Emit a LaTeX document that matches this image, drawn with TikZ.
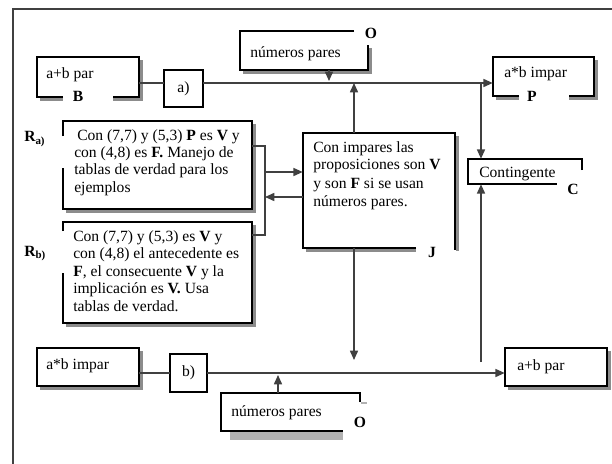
\documentclass[tikz,border=0pt]{standalone}
\usepackage{fontspec}
\setmainfont{Liberation Serif}
\usetikzlibrary{arrows.meta,fit}
\begin{document}
\begin{tikzpicture}[x=0.75pt,y=-0.75pt,
  bd/.style={black,line width=0.9pt},
  shd/.style={black!45,line width=2.2pt},
  con/.style={black!75,line width=1.2pt},
  arr/.style={con,-{Triangle[length=7pt,width=6pt]}},
  txt/.style={font=\fontsize{11.7}{14}\selectfont,inner sep=0pt,anchor=base west},
  lbl/.style={font=\fontsize{11.7}{14}\selectfont\bfseries,inner sep=0pt,anchor=base},
  area/.style={inner sep=0pt,draw=none}]
\useasboundingbox (0,0) rectangle (612,464);
% frame
\draw[line width=1.4pt,black!75] (13,464) -- (13,9) -- (612,9);

% ---- box B
\node[area,fit={(37,57)(139,97)}] (B) {};
\draw[shd] (141.5,60) -- (141.5,99.5) -- (113,99.5);
\draw[shd] (40,99.5) -- (63,99.5);
\draw[bd] (63,97) -- (37,97) -- (37,57) -- (139,57) -- (139,97) -- (113,97);
\node[txt] (Bt) at (46,79) {a+b par};
\node[lbl] (Bl) at (78,102) {B};

% ---- box a)
\node[area,fit={(164,70)(203,107)}] (abox) {};
\draw[bd] (164,70) rectangle (203,107);
\node[font=\fontsize{11.7}{14}\selectfont,inner sep=0pt] (at) at (abox.center) {a)};

% ---- top O box
\node[area,fit={(240,31)(368,70)}] (Otop) {};
\draw[shd] (370.5,48) -- (370.5,72.5) -- (243,72.5);
\draw[bd] (354,31) -- (240,31) -- (240,70) -- (368,70) -- (368,45);
\node[txt] (Ot) at (250,57) {números pares};
\node[lbl] (Ol) at (371,38) {O};

% ---- box P
\node[area,fit={(493,57)(594,96)}] (P) {};
\draw[shd] (596.5,60) -- (596.5,98.5) -- (569,98.5);
\draw[shd] (496,98.5) -- (519,98.5);
\draw[bd] (519,96) -- (493,96) -- (493,57) -- (594,57) -- (594,96) -- (569,96);
\node[txt] (Pt) at (504,78) {a*b impar};
\node[lbl] (Pl) at (532,102) {P};

% ---- box C
\node[area,fit={(468,159)(582,184)}] (C) {};
\draw[bd] (582,170) -- (582,159) -- (468,159) -- (468,184) -- (557,184);
\node[txt] (Ct) at (479,177) {Contingente};
\node[lbl] (Cl) at (573,194) {C};

% ---- box J
\node[area,fit={(303,133)(455,248)}] (J) {};
\draw[shd] (457.5,136) -- (457.5,251);
\draw[shd] (306,250.5) -- (416,250.5);
\draw[bd] (416,248) -- (303,248) -- (303,133) -- (455,133) -- (455,250);
\node[txt] (j1) at (313,152) {Con impares las};
\node[txt] (j2) at (313,170) {proposiciones son \textbf{V}};
\node[txt] (j3) at (313,188) {y son \textbf{F} si se usan};
\node[txt] (j4) at (313,206) {números pares.};
\node[lbl] (Jl) at (432,257) {J};

% ---- box Ra
\node[area,fit={(63,121)(252,209)}] (Ra) {};
\draw[shd] (254.5,124) -- (254.5,211.5) -- (66,211.5);
\draw[bd] (63,136) -- (63,121) -- (252,121) -- (252,209) -- (63,209) -- (63,168);
\node[txt] (ra1) at (77,140) {Con (7,7) y (5,3) \textbf{P} es \textbf{V} y};
\node[txt] (ra2) at (74,157.5) {con (4,8) es \textbf{F.} Manejo de};
\node[txt] (ra3) at (74,175) {tablas de verdad para los};
\node[txt] (ra4) at (74,192.5) {ejemplos};
\node[txt,font=\fontsize{11.7}{14}\selectfont\bfseries] (Ral) at (24,142) {R\textsubscript{a)}};

% ---- box Rb
\node[area,fit={(63,222)(252,323)}] (Rb) {};
\draw[shd] (254.5,225) -- (254.5,325.5) -- (66,325.5);
\draw[bd] (63,231) -- (63,222) -- (252,222) -- (252,323) -- (63,323) -- (63,273);
\node[txt] (rb1) at (73,241) {Con (7,7) y (5,3) es \textbf{V} y};
\node[txt] (rb2) at (73,258.5) {con (4,8) el antecedente es};
\node[txt] (rb3) at (73,276) {\textbf{F}, el consecuente \textbf{V} y la};
\node[txt] (rb4) at (73,293.5) {implicación es \textbf{V.} Usa};
\node[txt] (rb5) at (73,311) {tablas de verdad.};
\node[txt,font=\fontsize{11.7}{14}\selectfont\bfseries] (Rbl) at (24,256) {R\textsubscript{b)}};

% ---- bottom a*b impar
\node[area,fit={(37,348)(139,386)}] (ab) {};
\draw[shd] (141.5,351) -- (141.5,388.5) -- (40,388.5);
\draw[bd] (37,348) rectangle (139,386);
\node[txt] (abt) at (46,369) {a*b impar};

% ---- box b)
\node[area,fit={(170,354)(207,392)}] (bbox) {};
\draw[bd] (170,354) rectangle (207,392);
\node[font=\fontsize{11.7}{14}\selectfont,inner sep=0pt] (bt) at (bbox.center) {b)};

% ---- bottom a+b par
\node[area,fit={(505,348)(607,386)}] (apb) {};
\draw[shd] (609.5,351) -- (609.5,388.5) -- (508,388.5);
\draw[bd] (505,348) rectangle (607,386);
\node[txt] (apbt) at (517,370) {a+b par};

% ---- bottom O box
\node[area,fit={(221,393)(360,431)}] (Obot) {};
\fill[black!30] (230,432) rectangle (343,440);
\draw[black!30,line width=1.5pt] (361,402.5) -- (367,402.5);
\draw[bd] (360,402) -- (360,393) -- (221,393) -- (221,431) -- (343,431);
\node[txt] (Obt) at (231,416) {números pares};
\node[lbl] (Obl) at (360,427) {O};

% ---- connectors
\coordinate (yA) at (0,83);
\coordinate (yB) at (0,373);
\coordinate (xO) at (329,0);
\coordinate (xJ) at (354,0);
\coordinate (xC) at (481,0);
\coordinate (xO2) at (278,0);
\coordinate (br1) at (265,146);
\coordinate (br2) at (265,235);
\coordinate (ar1) at (265,172);
\coordinate (ar2) at (265,197);
\coordinate (jEnd) at (354,360);
\coordinate (cEnd) at (481,362);

\draw[con] (B.east |- yA) -- (abox.west |- yA);
\draw[arr] (abox.east |- yA) -- (P.west |- yA);
\draw[arr,shorten >=1.5pt] (Otop.south -| xO) -- (xO |- yA);
\draw[arr] (J.north -| xJ) -- (xJ |- yA);
\draw[arr] (xC |- yA) -- (C.north -| xC);
\draw[arr] (cEnd) -- (C.south -| xC);
\draw[con] (Ra.east |- br1) -- (br1) -- (br2) -- (Rb.east |- br2);
\draw[arr] (ar1) -- (J.west |- ar1);
\draw[arr] (J.west |- ar2) -- (ar2);
\draw[arr] (J.south -| jEnd) -- (jEnd);
\draw[con] (ab.east |- yB) -- (bbox.west |- yB);
\draw[arr] (bbox.east |- yB) -- (apb.west |- yB);
\draw[arr,shorten >=1.5pt] (Obot.north -| xO2) -- (xO2 |- yB);
\end{tikzpicture}
\end{document}
